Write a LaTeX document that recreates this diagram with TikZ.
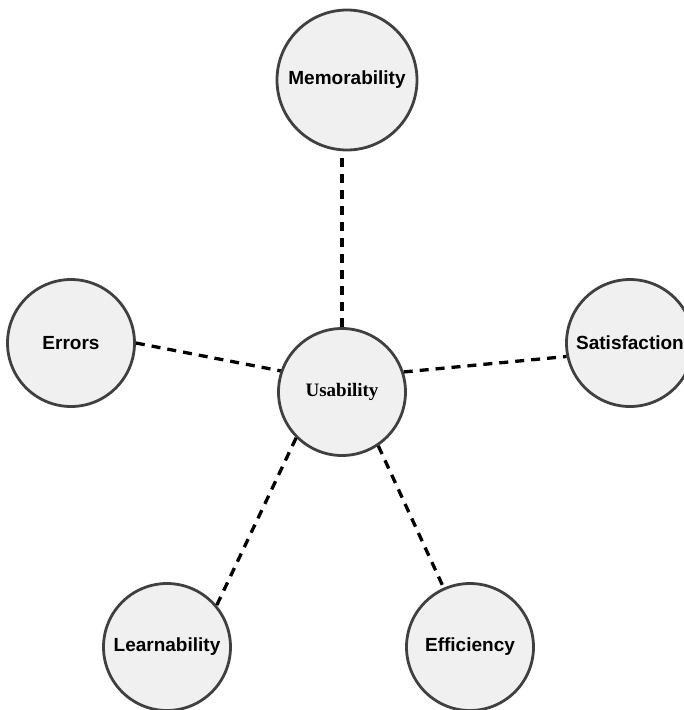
\documentclass[tikz,border=0pt]{standalone}
\usepackage{fontspec}
\setmainfont{Liberation Sans}
\newfontfamily\hubfont{Liberation Serif}
\usetikzlibrary{positioning}
\definecolor{ringgray}{HTML}{404040}
\definecolor{discfill}{HTML}{F0F0F0}

\begin{document}
\begin{tikzpicture}[x=1pt,y=-1pt,
  disc/.style = {circle,draw=ringgray,fill=discfill,line width=2.8pt,
                 minimum size=127pt,inner sep=0pt,
                 font=\fontsize{19}{22}\selectfont\bfseries},
  link/.style = {line width=3.3pt,dash pattern=on 9pt off 7pt}
                        ]
\useasboundingbox (0,0) rectangle (684,710);
\node (u) [disc] at (342,392) {\hubfont\bfseries Usability};

%
\node (m) [disc,minimum size=140pt] at (347,80)  {Memorability};
\node (e) [disc] at (71,343)  {Errors};
\node (s) [disc] at (630,343) {Satisfaction};
\node (l) [disc] at (167,647) {Learnability};
\node (f) [disc] at (470,647) {Efficiency};

%
\draw[link]  (u.north) -- (u.north |- m.south);
\draw[link]  (e.0)     -- (u.161);
\draw[link]  (u.18)    -- (s.192);
\draw[link]  (u.225)   -- (l.40);
\draw[link]  (u.-56)   -- (f.114);
\end{tikzpicture}
\end{document}
